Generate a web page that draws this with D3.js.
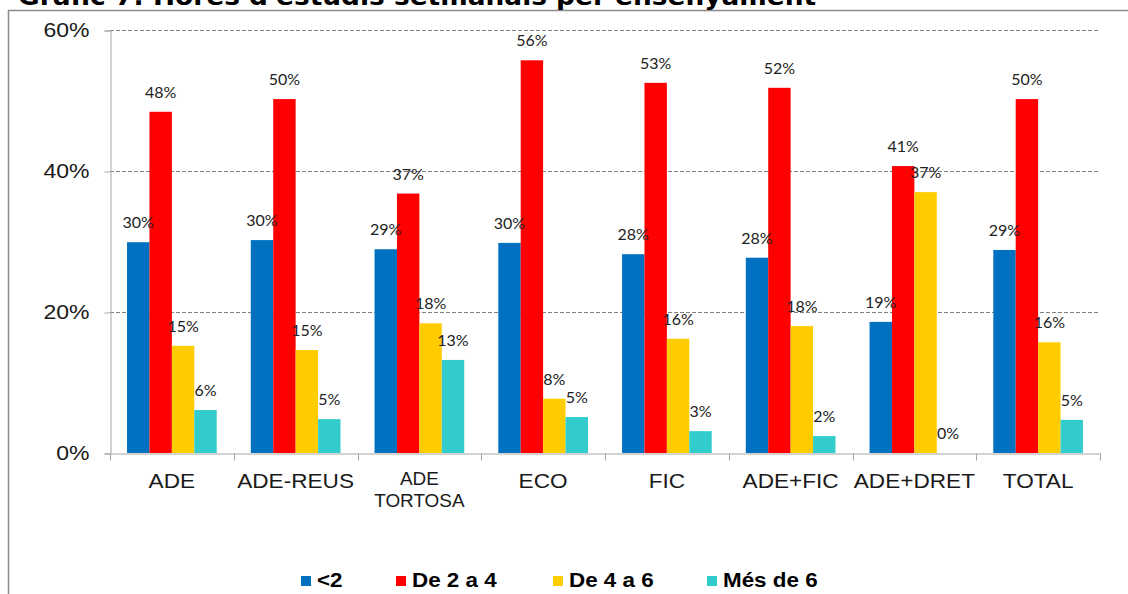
<!DOCTYPE html>
<html>
<head>
<meta charset="utf-8">
<script src="https://cdn.jsdelivr.net/npm/d3@7"></script>
<style>
	body { margin: 0; background: #fff; }
	svg { display: block; }
</style>
</head>
<body>
<svg width="1128" height="594"></svg>
<script>
const categories = ["ADE", "ADE-REUS", "ADE TORTOSA", "ECO", "FIC", "ADE+FIC", "ADE+DRET", "TOTAL"];
const seriesNames = ["<2", "De 2 a 4", "De 4 a 6", "Més de 6"];
const seriesColors = ["#0070c0", "#ff0000", "#ffcc00", "#33cccc"];
const lessThan2 = [29.9, 30.2, 28.9, 29.8, 28.2, 27.7, 18.6, 28.8];
const from2to4 = [48.4, 50.2, 36.8, 55.7, 52.5, 51.8, 40.7, 50.2];
const from4to6 = [15.2, 14.6, 18.4, 7.7, 16.2, 18.0, 37.0, 15.7];
const moreThan6 = [6.1, 4.8, 13.2, 5.1, 3.1, 2.4, 0, 4.7];
const yTicks = [0, 20, 40, 60];

const series = [lessThan2, from2to4, from4to6, moreThan6];

const svg = d3.select("svg");
const margin = { left: 110, right: 1100, top: 30, bottom: 453 };
const sansFont = "Liberation Sans, Arial, sans-serif";

// the original picture is a bit wider than tall, so stretch texts sideways
function stretch(sel, k) {
	sel.each(function() {
		const w = this.getComputedTextLength();
		d3.select(this)
		  .attr("textLength", w * k)
		  .attr("lengthAdjust", "spacingAndGlyphs");
	});
}

// outer frame (cut off at right and bottom)
svg.append("rect")
   .attr("x", 8.5).attr("y", 10.5)
   .attr("width", 1200).attr("height", 700)
   .attr("fill", "none")
   .attr("stroke", "#8c8c8c")
   .attr("stroke-width", 1.5);

// title, mostly cut off by the top edge
svg.append("text")
   .attr("x", 18).attr("y", 5)
   .attr("font-family", "DejaVu Sans, Verdana, sans-serif")
   .attr("font-weight", "bold")
   .attr("font-size", 24)
   .attr("fill", "#000")
   .text("Gràfic 7: Hores d'estudis setmanals per ensenyament")
   .call(stretch, 1.1);

const xScale = d3.scaleBand()
				 .domain(categories)
				 .range([margin.left, margin.right])
				 .paddingInner(0)
				 .paddingOuter(0);
const inner = d3.scaleBand()
				.domain(d3.range(series.length))
				.range([0, xScale.bandwidth()])
				.paddingOuter(0.76)
				.paddingInner(0);
const yScale = d3.scaleLinear()
				 .domain([0, 60])
				 .range([margin.bottom, margin.top]);

// grid
svg.append("g")
   .selectAll("line")
   .data(yTicks.filter(d => d > 0))
   .enter()
   .append("line")
   .attr("x1", margin.left).attr("x2", margin.right)
   .attr("y1", d => Math.round(yScale(d)) + 0.5)
   .attr("y2", d => Math.round(yScale(d)) + 0.5)
   .attr("stroke", "#808080")
   .attr("stroke-dasharray", "4,2");

// y axis
const yAxis = d3.axisLeft(yScale)
				.tickValues(yTicks)
				.tickFormat(d => d + "%")
				.tickSize(6)
				.tickPadding(15);
const yg = svg.append("g")
			  .attr("transform", `translate(${margin.left + 0.5}, 0.5)`)
			  .call(yAxis);
yg.select(".domain").attr("stroke", "#a6a6a6");
yg.selectAll(".tick line").attr("stroke", "#a6a6a6");
yg.selectAll(".tick text")
  .attr("font-family", sansFont)
  .attr("font-size", 20)
  .attr("fill", "#1a1a1a")
  .call(stretch, 1.15);

// bars
series.forEach((values, s) => {
	svg.append("g")
	   .selectAll("rect")
	   .data(values)
	   .enter()
	   .append("rect")
	   .attr("x", (d, i) => xScale(categories[i]) + inner(s))
	   .attr("y", d => yScale(d))
	   .attr("width", inner.bandwidth())
	   .attr("height", d => yScale(0) - yScale(d))
	   .attr("fill", seriesColors[s]);
});

// x axis
const xAxis = d3.axisBottom(xScale).tickSize(0).tickFormat("");
const xg = svg.append("g")
			  .attr("transform", `translate(0, ${margin.bottom + 0.5})`)
			  .call(xAxis);
xg.select(".domain").attr("stroke", "#a6a6a6");
xg.selectAll(".sep")
  .data(categories.concat(["end"]))
  .enter()
  .append("line")
  .attr("class", "sep")
  .attr("x1", (d, i) => Math.round(margin.left + i * xScale.step()) + 0.5)
  .attr("x2", (d, i) => Math.round(margin.left + i * xScale.step()) + 0.5)
  .attr("y1", 0).attr("y2", 7)
  .attr("stroke", "#a6a6a6");

const xLabels = svg.append("g");
categories.forEach(c => {
	const cx = xScale(c) + xScale.bandwidth() / 2;
	const lines = c === "ADE TORTOSA" ? ["ADE", "TORTOSA"] : [c];
	lines.forEach((line, j) => {
		xLabels.append("text")
			   .attr("x", cx)
			   .attr("y", lines.length > 1 ? 485 + j * 22 : 488)
			   .attr("text-anchor", "middle")
			   .attr("font-family", sansFont)
			   .attr("font-size", lines.length > 1 ? 18 : 20)
			   .attr("fill", "#1a1a1a")
			   .text(line)
			   .call(stretch, lines.length > 1 ? 1.05 : 1.13);
	});
});

// data labels
series.forEach((values, s) => {
	svg.append("g")
	   .selectAll("text")
	   .data(values)
	   .enter()
	   .append("text")
	   .attr("x", (d, i) => xScale(categories[i]) + inner(s) + inner.bandwidth() / 2)
	   .attr("y", d => yScale(d) - 14)
	   .attr("text-anchor", "middle")
	   .attr("font-family", "Lato, Open Sans, sans-serif")
	   .attr("font-size", 16)
	   .attr("fill", "#222")
	   .text(d => Math.round(d) + "%");
});

// legend
const legendX = [301, 396, 553, 707];
const legend = svg.append("g");
seriesNames.forEach((name, i) => {
	legend.append("rect")
		  .attr("x", legendX[i]).attr("y", 576)
		  .attr("width", 10).attr("height", 10)
		  .attr("fill", seriesColors[i]);
	legend.append("text")
		  .attr("x", legendX[i] + 16).attr("y", 587)
		  .attr("font-family", sansFont)
		  .attr("font-weight", "bold")
		  .attr("font-size", 20)
		  .attr("fill", "#000")
		  .text(name)
		  .call(stretch, 1.12);
});
</script>
</body>
</html>
